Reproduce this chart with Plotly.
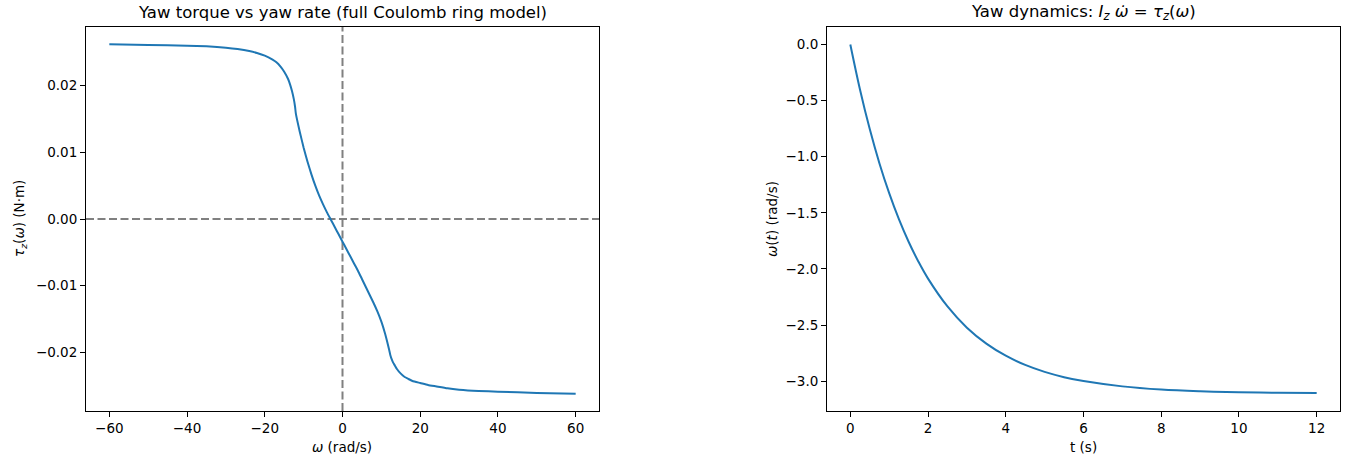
import plotly.graph_objects as go

# ---- data: yaw torque vs yaw rate ----
omega = [-60, -50, -40, -35, -30, -27, -24, -22, -20, -18, -17, -16, -15, -14,
         -13.5, -13, -12.5, -12.2, -12, -11, -10, -9, -8, -7, -6, -5,
         -4, -3, -2, -1, 0, 1, 2, 3, 4, 5, 6, 7, 8, 9, 10, 10.5, 11, 11.5, 12,
         12.3, 12.7, 13, 13.5, 14, 15, 16, 17, 18, 20, 22, 24, 27, 30, 35, 40,
         50, 60]
tau = [0.0262, 0.0261, 0.0260, 0.0259, 0.0257, 0.0255, 0.0252, 0.0249,
       0.0245, 0.0239, 0.0235, 0.0229, 0.0221, 0.0210, 0.0202, 0.0192,
       0.0179, 0.0168, 0.0158, 0.0131, 0.0107, 0.0086, 0.0067, 0.0050,
       0.0035, 0.0022, 0.0010, -0.0001, -0.0012, -0.0023,
       -0.0034, -0.0045, -0.0056, -0.0067, -0.0078, -0.0090, -0.0102,
       -0.0114, -0.0126, -0.0139, -0.0154, -0.0163, -0.0173, -0.0184,
       -0.0196, -0.0204, -0.0211, -0.0215, -0.0220, -0.0225, -0.0232,
       -0.0237, -0.0240, -0.0243, -0.0246, -0.0249, -0.0251, -0.0254,
       -0.0256, -0.0258, -0.0259, -0.0261, -0.0262]

# ---- data: yaw rate time response ----
t = [0, 0.25, 0.5, 0.75, 1.0, 1.25, 1.5, 1.75, 2.0, 2.5, 3.0, 3.5, 4.0, 4.5,
     5.0, 5.5, 6.0, 7.0, 8.0, 9.0, 10.0, 11.0, 12.0]
w_t = [0.0, -0.403, -0.754, -1.060, -1.325, -1.557, -1.758, -1.933, -2.086,
       -2.334, -2.523, -2.665, -2.773, -2.855, -2.917, -2.964, -2.999, -3.046,
       -3.074, -3.089, -3.098, -3.103, -3.106]

BLUE = "#1f77b4"
FONT = "DejaVu Sans"
TICK = dict(family=FONT, size=13.5, color="#000")

fig = go.Figure()
fig.add_trace(go.Scatter(x=omega, y=tau, mode="lines",
                         line=dict(color=BLUE, width=2, shape="spline", smoothing=0.5),
                         xaxis="x", yaxis="y", showlegend=False, hoverinfo="skip"))
fig.add_trace(go.Scatter(x=t, y=w_t, mode="lines",
                         line=dict(color=BLUE, width=2, shape="spline"),
                         xaxis="x2", yaxis="y2", showlegend=False, hoverinfo="skip"))

axis_common = dict(showline=True, linecolor="#000", linewidth=1, mirror=True,
                   ticks="outside", ticklen=5, tickwidth=1, tickcolor="#000",
                   showgrid=False, zeroline=False, tickfont=TICK)

d1 = [0, 513 / 1254]
d2 = [(827 - 86) / 1254, 1]

fig.update_layout(
    width=1359, height=461,
    margin=dict(l=86, r=19, t=27, b=50),
    paper_bgcolor="white", plot_bgcolor="white",
    font=dict(family=FONT, color="#000"),
    xaxis=dict(domain=d1, range=[-66, 66], tickvals=[-60, -40, -20, 0, 20, 40, 60],
               anchor="y", **axis_common),
    yaxis=dict(domain=[0, 1], range=[-0.0288, 0.0288],
               tickvals=[-0.02, -0.01, 0.0, 0.01, 0.02], tickformat=".2f",
               anchor="x", **axis_common),
    xaxis2=dict(domain=d2, range=[-0.6, 12.6], tickvals=[0, 2, 4, 6, 8, 10, 12],
                anchor="y2", **axis_common),
    yaxis2=dict(domain=[0, 1], range=[-3.2653, 0.1553],
                tickvals=[-3.0, -2.5, -2.0, -1.5, -1.0, -0.5, 0.0], tickformat=".1f",
                anchor="x2", **axis_common),
)

# reference dashed lines
dash = "8px,3.5px"
fig.add_shape(type="line", xref="x domain", x0=0, x1=1, yref="y", y0=0, y1=0,
              line=dict(color="#808080", width=2, dash=dash), layer="below")
fig.add_shape(type="line", xref="x", x0=0, x1=0, yref="y domain", y0=0, y1=1,
              line=dict(color="#808080", width=2, dash=dash), layer="below")

# titles and axis labels
TT = dict(family=FONT, size=16.5, color="#000")
LB = dict(family=FONT, size=13.5, color="#000")
ann = [
    dict(text="Yaw torque vs yaw rate (full Coulomb ring model)", x=342, y=12, font=TT),
    dict(text="Yaw dynamics: <i>I</i><sub><i>z</i></sub> <i>ω̇</i> = <i>τ</i><sub><i>z</i></sub>(<i>ω</i>)",
         x=1083, y=12, font=TT),
    dict(text="<i>ω</i> (rad/s)", x=342, y=447, font=LB),
    dict(text="t (s)", x=1083, y=447, font=LB),
    dict(text="<i>τ</i><sub><i>z</i></sub>(<i>ω</i>) (N·m)", x=20, y=219, font=LB, textangle=-90),
    dict(text="<i>ω</i>(<i>t</i>) (rad/s)", x=772, y=219, font=LB, textangle=-90),
]
for a in ann:
    fig.add_annotation(text=a["text"], xref="paper", yref="paper",
                       x=(a["x"] - 86) / 1254, y=(411 - a["y"]) / 384,
                       xanchor="center", yanchor="middle", showarrow=False,
                       font=a["font"], textangle=a.get("textangle", 0))

fig.write_html("out.html", config={"displayModeBar": False},
               post_script="document.body.style.margin='0';document.body.style.overflow='hidden';")
